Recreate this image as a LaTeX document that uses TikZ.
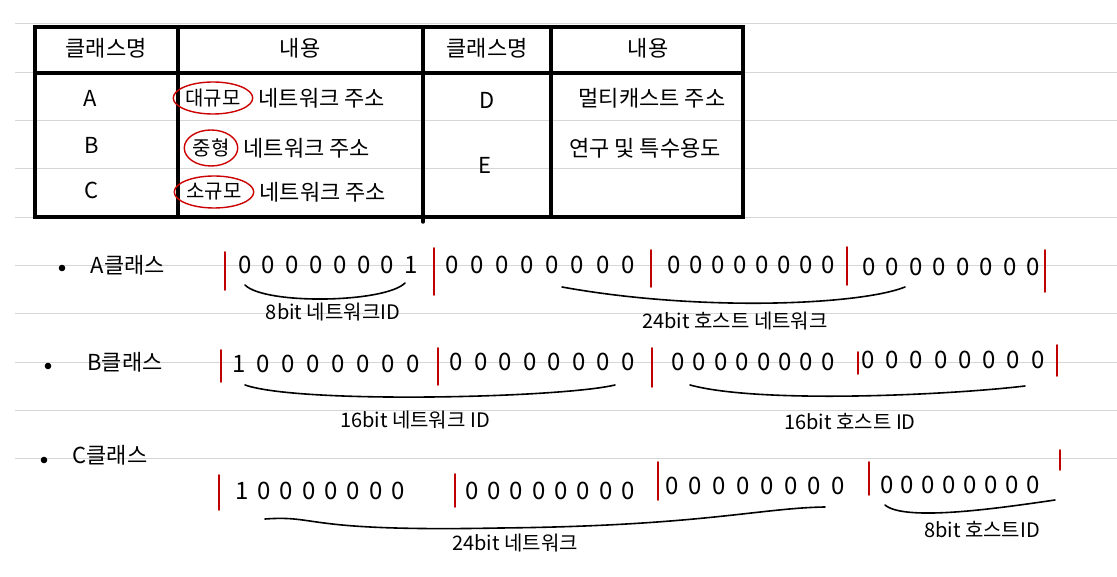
\documentclass[tikz,border=0pt]{standalone}
\usepackage{fontspec}
\setmainfont{Noto Sans CJK KR}
\usetikzlibrary{shapes.geometric}
\begin{document}
\begin{tikzpicture}[x=1pt,y=-1pt,
  rule/.style={draw=black!16, line width=1pt},
  tbl/.style={line width=3.5pt, line cap=round},
  sep/.style={draw=red!75!black, line width=1.6pt, line cap=round},
  brace/.style={line width=1.6pt, line cap=round},
  cell/.style={font=\fontsize{22}{25}\selectfont, inner sep=0pt},
  bits/.style={font=\fontsize{24}{26}\selectfont, inner sep=0pt},
  lbl/.style={font=\fontsize{20}{23}\selectfont, inner sep=0pt},
  circ/.style={draw=red!80!black, line width=1.4pt, ellipse, inner sep=0.5pt, minimum height=32pt, font=\fontsize{20}{23}\selectfont}]
\useasboundingbox[fill=white] (0,0) rectangle (1117,577);
% ruled paper lines
\foreach \k in {0,...,9} \draw[rule] (15,{24+48.3*\k}) -- (1117,{24+48.3*\k});
% table
\draw[tbl] (35,27) rectangle (743,217);
\draw[tbl] (35,73) -- (743,73);
\draw[tbl] (178,27) -- (178,217);
\draw[tbl] (423,27) -- (423,222);
\draw[line width=4.5pt] (551,27) -- (551,217);
\node[cell] (h1) at (106,48) {클래스명};
\node[cell] (h2) at (300,48) {내용};
\node[cell] (h3) at (487,48) {클래스명};
\node[cell] (h4) at (648,48) {내용};
\node[cell] (ca) at (90,98) {A};
\node[cell] (cb) at (92,145) {B};
\node[cell] (cc) at (92,190) {C};
\node[cell] (cd) at (487,100) {D};
\node[cell] (ce) at (485,165) {E};
\node[circ] (big) at (213,98) {대규모};
\node[cell, anchor=west] (bigt) at ([xshift=5pt]big.east) {네트워크 주소};
\node[circ, minimum height=36pt] (mid) at (211,148) {중형};
\node[cell, anchor=west] (midt) at ([xshift=5pt]mid.east) {네트워크 주소};
\node[circ] (small) at (214,192) {소규모};
\node[cell, anchor=west] (smallt) at ([xshift=5pt]small.east) {네트워크 주소};
\node[cell] (multi) at (652,98) {멀티캐스트 주소};
\node[cell] (res) at (645,148) {연구 및 특수용도};
% bullets and class labels
\fill (62,268) circle (3.3);
\fill (48,366) circle (3.3);
\fill (44,460) circle (3.3);
\node[cell] (la) at (128,265) {A클래스};
\node[cell] (lb) at (125,362) {B클래스};
\node[cell] (lc) at (110,455) {C클래스};
% A class
\node[bits] (a1) at (328,265) {\makebox[180pt][s]{0 0 0 0 0 0 0 1}};
\node[bits] (a2) at (540,265) {\makebox[189pt][s]{0 0 0 0 0 0 0 0}};
\node[bits] (a3) at (751,265) {\makebox[168pt][s]{0 0 0 0 0 0 0 0}};
\node[bits] (a4) at (951,267) {\makebox[178pt][s]{0 0 0 0 0 0 0 0}};
\draw[sep] (225,252) -- (225,290);
\draw[sep] (434,248) -- (434,295);
\draw[sep] (651,250) -- (651,287);
\draw[sep] (847,247) -- (847,285);
\draw[sep] (1045,250) -- (1045,292);
\coordinate (a1s) at (245,285); \coordinate (a1e) at (405,283);
\draw[brace] (a1s) .. controls (265,305) and (385,303) .. (a1e);
\coordinate (a2s) at (562,287); \coordinate (a2e) at (905,287);
\draw[brace] (a2s) .. controls (700,312) and (860,305) .. (a2e);
\node[lbl] (la1) at (333,312) {8bit 네트워크ID};
\node[lbl] (la2) at (735,321) {24bit 호스트 네트워크};
% B class
\node[bits] (b1) at (326,364) {\makebox[188pt][s]{1 0 0 0 0 0 0 0}};
\node[bits] (b2) at (542,362) {\makebox[185pt][s]{0 0 0 0 0 0 0 0}};
\node[bits] (b3) at (753,362) {\makebox[163pt][s]{0 0 0 0 0 0 0 0}};
\node[bits] (b4) at (953,360) {\makebox[183pt][s]{0 0 0 0 0 0 0 0}};
\draw[sep] (221,350) -- (221,382);
\draw[sep] (438,348) -- (438,385);
\draw[sep] (652,348) -- (652,387);
\draw[sep] (858,352) -- (858,374);
\draw[sep] (1057,345) -- (1057,376);
\coordinate (b1s) at (245,385); \coordinate (b1e) at (615,385);
\draw[brace] (b1s) .. controls (300,404) and (560,398) .. (b1e);
\coordinate (b2s) at (690,385); \coordinate (b2e) at (1025,386);
\draw[brace] (b2s) .. controls (760,404) and (950,395) .. (b2e);
\node[lbl] (lb1) at (415,420) {16bit 네트워크 ID};
\node[lbl] (lb2) at (850,422) {16bit 호스트 ID};
% C class
\node[bits] (c1) at (320,491) {\makebox[170pt][s]{1 0 0 0 0 0 0 0}};
\node[bits] (c2) at (550,491) {\makebox[170pt][s]{0 0 0 0 0 0 0 0}};
\node[bits] (c3) at (755,486) {\makebox[180pt][s]{0 0 0 0 0 0 0 0}};
\node[bits] (c4) at (960,485) {\makebox[160pt][s]{0 0 0 0 0 0 0 0}};
\draw[sep] (219,475) -- (219,510);
\draw[sep] (455,474) -- (455,507);
\draw[sep] (658,462) -- (658,500);
\draw[sep] (869,462) -- (869,495);
\draw[sep] (1060,450) -- (1060,470);
\coordinate (c1s) at (265,519); \coordinate (c1e) at (825,507);
\draw[brace] (c1s) .. controls (320,515) and (300,532) .. (500,528) .. controls (700,526) and (760,508) .. (c1e);
\coordinate (c2s) at (885,505); \coordinate (c2e) at (1055,500);
\draw[brace] (c2s) .. controls (905,522) and (1000,508) .. (c2e);
\node[lbl] (lc1) at (515,543) {24bit 네트워크};
\node[lbl] (lc2) at (982,530) {8bit 호스트ID};
\end{tikzpicture}
\end{document}
